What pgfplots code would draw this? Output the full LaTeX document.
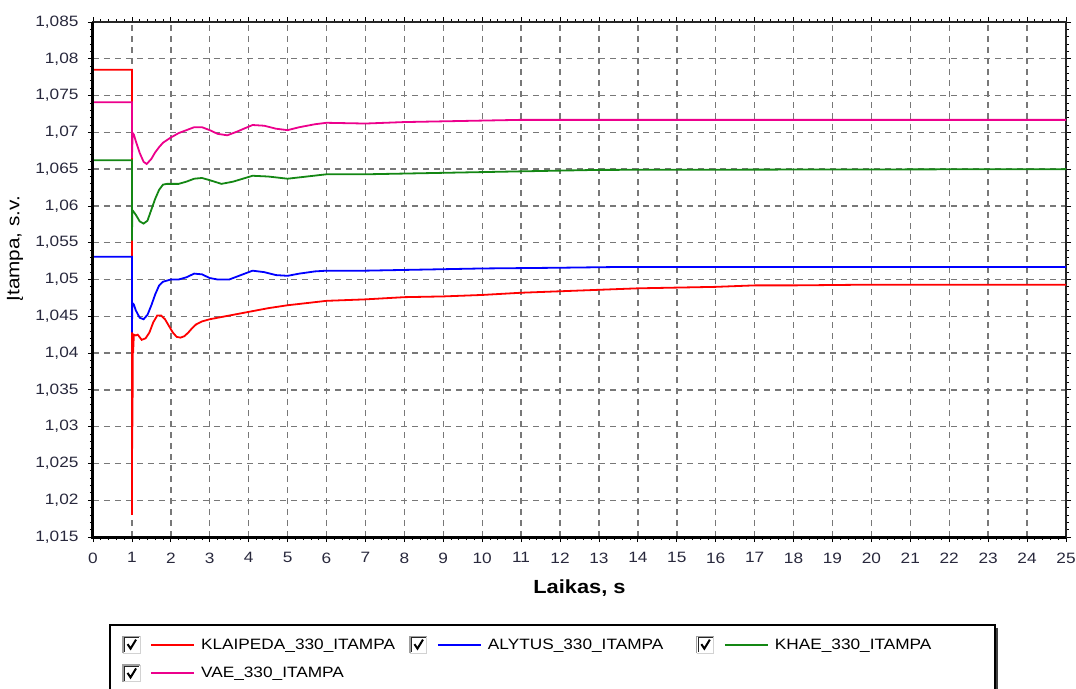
\documentclass[border=0pt]{standalone}
\usepackage{pgfplots}
\pgfplotsset{compat=1.18}
\usepackage{fontspec}
\setmainfont{Liberation Sans}[FakeStretch=1.15]
\definecolor{tickc}{RGB}{40,40,60}
\definecolor{kgreen}{RGB}{20,135,20}
\definecolor{gridc}{RGB}{120,120,120}
\pgfplotsset{chk/.style={legend image code/.code={%
  \fill[white] (0pt,-8.5pt) rectangle (17pt,8.5pt);
  \draw[gray!35, line width=1pt] (0pt,-8.5pt) -- (17pt,-8.5pt) -- (17pt,8.5pt);
  \draw[gray!75, line width=1.2pt] (0pt,-8.5pt) -- (0pt,8.5pt) -- (17pt,8.5pt);
  \draw[black!85, line width=1pt] (1.3pt,-7.2pt) -- (1.3pt,7.2pt) -- (15.7pt,7.2pt);
  \draw[black, line width=2pt] (4.5pt,0.5pt) -- (7.5pt,-4pt) -- (13pt,5pt);
  \draw[##1, line width=2pt] (28pt,0pt) -- (71pt,0pt);
}}}
\begin{document}
\begin{tikzpicture}
\path[use as bounding box] (-93pt,-151pt) rectangle (983pt,537pt);
\begin{axis}[
  at={(0,0)}, anchor=south west, scale only axis,
  width=973pt, height=515pt,
  xmin=0, xmax=25, ymin=1.015, ymax=1.085,
  xtick={0,1,...,25},
  ytick={1.015,1.02,1.025,1.03,1.035,1.04,1.045,1.05,1.055,1.06,1.065,1.07,1.075,1.08,1.085},
  minor x tick num=4, minor y tick num=4,
  tick align=outside, major tick length=5pt, minor tick length=3pt,
  tick style={black, line width=0.8pt},
  axis line style={black!85, line width=2pt},
  after end axis/.code={
    \draw[black, line width=3pt] (rel axis cs:0,1) -- (rel axis cs:0,0) -- (rel axis cs:1,0);
    \draw[black, line width=1.5pt] (rel axis cs:0.0175,-0.1709) rectangle (rel axis cs:0.927,-0.34);
    \draw[black!75, line width=2pt] (rel axis cs:0.9290,-0.176) -- (rel axis cs:0.9290,-0.34);
  },
  grid=major,
  grid style={gridc, line width=1.4pt, dash pattern=on 6pt off 5pt},
  /pgf/number format/assume math mode=true,
  yticklabel style={xshift=-6pt, /pgf/number format/.cd, fixed, precision=3, use comma},
  xticklabel style={yshift=-7pt},
  ticklabel style={font=\fontsize{15}{18}\selectfont, text=tickc},
  xlabel={\textbf{Laikas, s}},
  xlabel style={font=\fontsize{19}{22}\selectfont, at={(axis description cs:0.5,-0.099)}, anchor=center},
  ylabel={Įtampa, s.v.},
  ylabel style={font=\fontsize{18}{21}\selectfont, at={(axis description cs:-0.080,0.56)}, anchor=center, rotate=0},
  legend columns=3,
  legend cell align=left,
  legend style={at={(axis description cs:0.0236,-0.1787)}, anchor=north west,
    draw=none, fill=none, font=\fontsize{15}{18}\selectfont,
    inner xsep=6pt, inner ysep=6pt,
    /tikz/every odd column/.append style={column sep=4pt},
    row sep=10pt},
]
\addplot[red, line width=1.8pt, chk] coordinates {
(0,1.0785)(1,1.0785)(1,1.018)(1.004,1.040)(1.008,1.027)(1.012,1.040)(1.016,1.030)(1.02,1.0405)
(1.03,1.0400)(1.05,1.0425)(1.1,1.0424)(1.15,1.0425)(1.25,1.0418)(1.35,1.0420)(1.45,1.0428)
(1.55,1.0442)(1.65,1.0451)(1.75,1.0451)(1.85,1.0446)(1.95,1.0437)(2.05,1.0428)(2.15,1.0422)
(2.25,1.0421)(2.35,1.0423)(2.45,1.0428)(2.55,1.0434)(2.65,1.0439)(2.8,1.0443)(3.0,1.0446)
(3.5,1.0451)(4,1.0456)(4.5,1.0461)(5,1.0465)(5.5,1.0468)(6,1.0471)(7,1.0473)(8,1.0476)
(9,1.0477)(10,1.0479)(11,1.0482)(12,1.0484)(13,1.0486)(14,1.0488)(15,1.0489)(16,1.0490)
(17,1.0492)(18,1.0492)(20,1.0493)(25,1.0493)};
\addlegendentry{\makebox[206pt][l]{KLAIPEDA\_330\_ITAMPA}}
\addplot[blue, line width=1.8pt, chk] coordinates {
(0,1.0531)(1,1.0531)(1,1.0428)(1.01,1.0468)(1.05,1.0466)(1.1,1.0458)(1.2,1.0448)(1.3,1.0446)
(1.4,1.0452)(1.5,1.0465)(1.6,1.0480)(1.7,1.0492)(1.8,1.0497)(2.0,1.0500)(2.2,1.0500)
(2.4,1.0503)(2.6,1.0508)(2.8,1.0507)(3.0,1.0502)(3.2,1.0500)(3.5,1.0500)(3.8,1.0506)
(4.1,1.0512)(4.4,1.0510)(4.7,1.0506)(5.0,1.0505)(5.3,1.0508)(5.7,1.0511)(6,1.0512)
(7,1.0512)(8,1.0513)(9,1.0514)(10,1.0515)(12,1.0516)(13.5,1.0517)(25,1.0517)};
\addlegendentry{\makebox[206pt][l]{ALYTUS\_330\_ITAMPA}}
\addplot[kgreen, line width=1.8pt, chk] coordinates {
(0,1.0662)(1,1.0662)(1,1.0553)(1.01,1.0592)(1.03,1.0593)(1.1,1.0588)(1.2,1.0579)(1.3,1.0576)
(1.4,1.0580)(1.5,1.0595)(1.6,1.0610)(1.7,1.0622)(1.8,1.0629)(1.9,1.0630)(2.2,1.0630)
(2.4,1.0633)(2.6,1.0637)(2.8,1.0638)(3.0,1.0635)(3.3,1.0630)(3.6,1.0633)(4.1,1.0641)
(4.5,1.0640)(5.0,1.0637)(5.5,1.0640)(6,1.0643)(7,1.0643)(8,1.0644)(10,1.0646)(13,1.0649)
(25,1.0650)};
\addlegendentry{KHAE\_330\_ITAMPA}
\addplot[magenta, line width=1.8pt, chk] coordinates {
(0,1.0741)(1,1.0741)(1,1.0665)(1.02,1.0699)(1.05,1.0697)(1.1,1.0688)(1.2,1.0672)(1.3,1.0660)
(1.38,1.0657)(1.5,1.0664)(1.6,1.0673)(1.7,1.0680)(1.8,1.0686)(2.0,1.0693)(2.2,1.0699)
(2.4,1.0703)(2.6,1.0707)(2.8,1.0707)(3.0,1.0703)(3.2,1.0698)(3.45,1.0696)(3.7,1.0701)
(4.1,1.0710)(4.4,1.0709)(4.7,1.0705)(5.0,1.0703)(5.3,1.0707)(5.7,1.0711)(6.0,1.0713)
(7,1.0712)(8,1.0714)(9,1.0715)(10,1.0716)(11,1.0717)(25,1.0717)};
\addlegendentry{VAE\_330\_ITAMPA}
\end{axis}
\end{tikzpicture}
\end{document}
